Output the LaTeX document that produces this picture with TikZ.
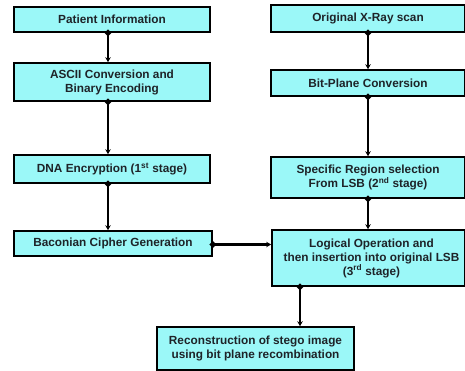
\documentclass[tikz,border=0pt]{standalone}
\usepackage{fontspec}
\setmainfont{Liberation Sans}
\usetikzlibrary{arrows.meta}
\definecolor{boxfill}{RGB}{155,248,248}
\definecolor{txt}{RGB}{30,35,40}
\tikzset{
  box/.style={draw=black, line width=1.6pt, fill=boxfill, align=center, inner sep=1pt,
    font=\fontsize{11.8}{14}\selectfont\bfseries, text=txt},
  link/.style={line width=2.3pt, shorten <=-3pt, {Circle[length=6pt]}-{Stealth[length=5pt,width=5.5pt]}}
}
\begin{document}
\begin{tikzpicture}[x=1pt,y=-1pt]
\useasboundingbox (0,0) rectangle (465,371);
\node[box, minimum width=196pt, minimum height=25pt] (pi) at (112,19.5) {Patient Information};
\node[box, minimum width=196pt, minimum height=38pt] (ascii) at (112,82) {ASCII Conversion and\\Binary Encoding};
\node[box, minimum width=196pt, minimum height=28pt] (dna) at (112,169) {DNA Encryption (1\textsuperscript{st} stage)};
\node[box, minimum width=198pt, minimum height=25pt] (bac) at (113,243.5) {Baconian Cipher Generation};
\node[box, minimum width=194pt, minimum height=27pt] (xray) at (368,18.5) {Original X-Ray scan};
\node[box, minimum width=194pt, minimum height=26pt] (bit) at (368,83) {Bit-Plane Conversion};
\node[box, minimum width=194pt, minimum height=41pt] (spec) at (368,177.5) {Specific Region selection\\From LSB (2\textsuperscript{nd} stage)};
\node[box, minimum width=193pt, minimum height=56pt] (log) at (368.5,258) {};
\node[font=\fontsize{11.8}{14}\selectfont\bfseries, text=txt, align=center, inner sep=0pt] (logt) at (371.5,258) {Logical Operation and\\then insertion into original LSB\\(3\textsuperscript{rd} stage)};
\node[box, minimum width=197pt, minimum height=43pt] (rec) at (255.5,348.5) {Reconstruction of stego image\\using bit plane recombination};
\draw[link] ([xshift=-4pt]pi.south) -- ([xshift=-4pt]ascii.north);
\draw[link] ([xshift=-4pt]ascii.south) -- ([xshift=-4pt]dna.north);
\draw[link] ([xshift=-4pt]dna.south) -- ([xshift=-5pt]bac.north);
\draw[link] (xray.south) -- (bit.north);
\draw[link] (bit.south) -- (spec.north);
\draw[link] (spec.south) -- (spec.south |- log.north);
\draw[link] ([yshift=-1pt]bac.east) -- ([yshift=-1pt]bac.east -| log.west);
\coordinate (ls) at ([xshift=-68.5pt]log.south);
\draw[link] (ls) -- (ls |- rec.north);
\end{tikzpicture}
\end{document}
